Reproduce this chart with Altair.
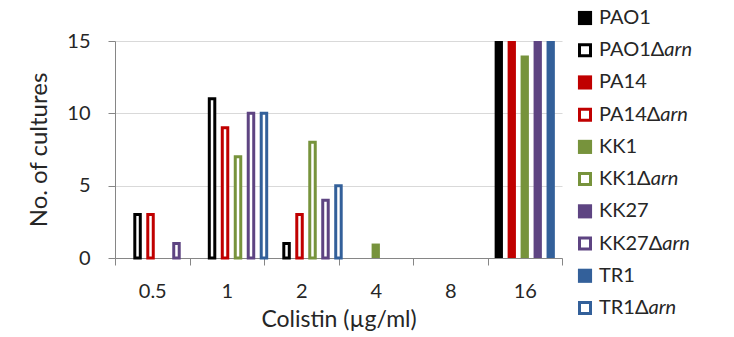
import glob
import altair as alt
import pandas as pd

# ---------------- data ----------------
concentrations = ["0.5", "1", "2", "4", "8", "16"]
strains = ["PAO1", "PA14", "KK1", "KK27", "TR1"]
strain_colors = ["#000000", "#C00000", "#77933C", "#5E4482", "#33609A"]

# wild type (filled bars)
wt_PAO1 = [0, 0, 0, 0, 0, 15]
wt_PA14 = [0, 0, 0, 0, 0, 15]
wt_KK1 = [0, 0, 0, 1, 0, 14]
wt_KK27 = [0, 0, 0, 0, 0, 15]
wt_TR1 = [0, 0, 0, 0, 0, 15]

# Δarn mutants (outlined bars)
arn_PAO1 = [3, 11, 1, 0, 0, 0]
arn_PA14 = [3, 9, 3, 0, 0, 0]
arn_KK1 = [0, 7, 8, 0, 0, 0]
arn_KK27 = [1, 10, 4, 0, 0, 0]
arn_TR1 = [0, 10, 5, 0, 0, 0]

wt_counts = [wt_PAO1, wt_PA14, wt_KK1, wt_KK27, wt_TR1]
arn_counts = [arn_PAO1, arn_PA14, arn_KK1, arn_KK27, arn_TR1]

rows = []
for s, wt, arn in zip(strains, wt_counts, arn_counts):
    for c, a, b in zip(concentrations, wt, arn):
        rows.append({"conc": c, "strain": s, "kind": "wt", "count": a})
        rows.append({"conc": c, "strain": s, "kind": "arn", "count": b})
df = pd.DataFrame(rows)

leg_rows = []
for s in strains:
    leg_rows.append({"entry": s, "strain": s, "kind": "wt", "prefix": s, "suffix": ""})
    leg_rows.append({"entry": s + "Δarn", "strain": s, "kind": "arn", "prefix": s + "Δ", "suffix": "arn"})
leg_df = pd.DataFrame(leg_rows)
entries = list(leg_df["entry"])

# ---------------- style ----------------
FONT = "Lato"
TEXT = "#262626"
AXIS = "#868686"
GRID = "#D9D9D9"
LEG_SIZE = 20


def text_width(s, size):
    try:
        from PIL import ImageFont
        paths = glob.glob("/usr/share/fonts/**/Lato-Regular.ttf", recursive=True)
        f = ImageFont.truetype(paths[0], size)
        return f.getlength(s)
    except Exception:
        table = {"A": 0.683, "K": 0.641, "O": 0.762, "P": 0.575, "R": 0.61,
                 "T": 0.556, "Δ": 0.68}
        return sum(table.get(ch, 0.58) for ch in s) * size


color_scale = alt.Scale(domain=strains, range=strain_colors)
x_enc = alt.X("conc:N", sort=concentrations, title="Colistin (µg/ml)",
              scale=alt.Scale(domain=concentrations, paddingInner=0, paddingOuter=0),
              axis=alt.Axis(labelAngle=0, tickBand="extent", tickSize=7, labelPadding=16,
                            titlePadding=7, titleFontSize=23))
y_enc = alt.Y("count:Q", title="No. of cultures",
              scale=alt.Scale(domain=[0, 15], nice=False),
              axis=alt.Axis(values=[0, 5, 10, 15], tickSize=7, labelPadding=18,
                            titlePadding=15, grid=True, titleFontSize=24))
xo_enc = alt.XOffset("strain:N", sort=strains,
                     scale=alt.Scale(domain=strains, paddingInner=0.36, paddingOuter=0.55))

base = alt.Chart(df).encode(x=x_enc, y=y_enc, xOffset=xo_enc,
                            color=alt.Color("strain:N", scale=color_scale, legend=None))

bars_wt = base.transform_filter("datum.kind == 'wt' && datum.count > 0").mark_bar(
    stroke=None)
bars_arn = base.transform_filter("datum.kind == 'arn' && datum.count > 0").mark_bar(
    fill="white", strokeWidth=3, width=alt.RelativeBandSize(0.66)
).encode(stroke=alt.Stroke("strain:N", scale=color_scale, legend=None))

bars = alt.layer(bars_wt, bars_arn)

# ---------------- custom legend ----------------
leg_y = alt.Y("entry:N", sort=entries, axis=None,
              scale=alt.Scale(type="point", domain=entries, range=[-23, 267], padding=0))
leg_base = alt.Chart(leg_df).encode(y=leg_y)
SQ_X = 470
TX_X = 484

sq_wt = leg_base.transform_filter("datum.kind == 'wt'").mark_square(
    size=200, opacity=1).encode(x=alt.value(SQ_X),
                                color=alt.Color("strain:N", scale=color_scale, legend=None))
sq_arn = leg_base.transform_filter("datum.kind == 'arn'").mark_square(
    size=121, filled=True, fill="white", strokeWidth=3, opacity=1).encode(
    x=alt.value(SQ_X), stroke=alt.Stroke("strain:N", scale=color_scale, legend=None))
prefix = leg_base.mark_text(align="left", baseline="middle", font=FONT,
                            fontSize=LEG_SIZE, color=TEXT).encode(
    x=alt.value(TX_X), text="prefix:N")
suffix_layers = []
for s in strains:
    w = text_width(s + "Δ", LEG_SIZE)
    suffix_layers.append(
        leg_base.transform_filter(f"datum.kind == 'arn' && datum.strain == '{s}'").mark_text(
            align="left", baseline="middle", font=FONT, fontSize=LEG_SIZE,
            fontStyle="italic", color=TEXT, dx=w).encode(x=alt.value(TX_X), text="suffix:N"))

legend = alt.layer(sq_wt, sq_arn, prefix, *suffix_layers)

chart = alt.layer(bars, legend).resolve_scale(y="independent").properties(
    width=447, height=217,
    autosize=alt.AutoSizeParams(type="none"),
    padding={"left": 115, "top": 41, "right": 172, "bottom": 79},
).configure_view(stroke=None).configure_axis(
    labelFont=FONT, titleFont=FONT, labelColor=TEXT, titleColor=TEXT,
    labelFontSize=20, titleFontWeight="normal",
    domainColor=AXIS, tickColor=AXIS, gridColor=GRID, domainWidth=1, tickWidth=1,
).configure_axisX(grid=False)

chart.save("out.html", embed_options={"renderer": "svg", "actions": False})
